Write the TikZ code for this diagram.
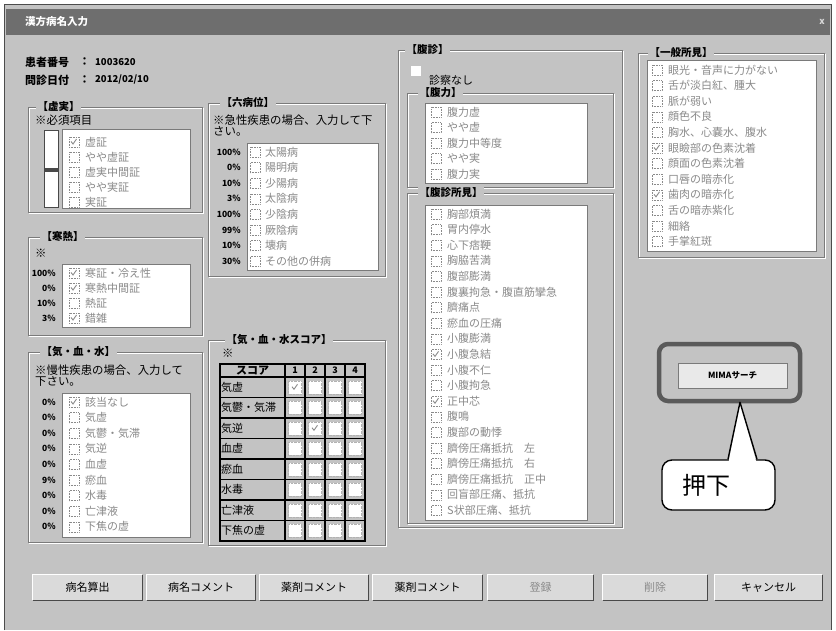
\documentclass[tikz,border=0pt]{standalone}
\usepackage{fontspec}
\setmainfont{Noto Sans CJK JP}
\usetikzlibrary{calc}
\definecolor{winbg}{HTML}{C3C3C3}
\definecolor{titlebg}{HTML}{6E6E6E}
\definecolor{itemgray}{HTML}{8A8A8A}
\definecolor{frdk}{HTML}{7A7A7A}
\definecolor{btnbg}{HTML}{DADADA}
\definecolor{hlgray}{HTML}{5A5A5A}
\tikzset{
 frdark/.style={draw=frdk, line width=0.9pt},
 frlight/.style={draw=white, line width=0.9pt},
 grptitle/.style={fill=winbg, inner xsep=1.5pt, inner ysep=0.5pt, font=\fontsize{10.5}{11}\selectfont\bfseries, text=black},
 listbox/.style={fill=white, draw=frdk, line width=0.8pt},
 cbox/.style={draw=itemgray, densely dotted, fill=white, minimum size=10pt, inner sep=0pt, line width=0.6pt},
 item/.style={font=\fontsize{11}{11}\selectfont, text=itemgray, inner sep=0pt},
 pct/.style={font=\fontsize{8.5}{9}\selectfont\bfseries, anchor=east, inner sep=0pt},
 chkmark/.style={draw=itemgray, line width=0.9pt},
 lbl/.style={font=\fontsize{11}{11}\selectfont\bfseries, inner sep=0pt, anchor=west},
 vallbl/.style={font=\fontsize{9.5}{10}\selectfont\bfseries, inner sep=0pt, anchor=west},
 note/.style={font=\fontsize{11.4}{11}\selectfont, inner sep=0pt, anchor=north west, align=left},
 btn/.style={fill=btnbg, draw=none, inner sep=0pt, font=\fontsize{11}{11}\selectfont},
 tbl/.style={draw=black, line width=1.3pt},
 scell/.style={fill=white, draw=gray!60, densely dotted, minimum size=13pt, inner sep=0pt},
}
\newcommand\chkon[1]{\draw[chkmark] ([xshift=-3pt,yshift=0.5pt]#1.center) -- ++(2pt,-2.5pt) -- ++(3.5pt,5pt);}
\newcommand\grpbox[7]{%
 \draw[frlight] ({#2+1},{#3+1}) rectangle ({#4+1},{#5+1});
 \draw[frdark] (#2,#3) rectangle (#4,#5);
 \node[grptitle, anchor=west] (#1) at (#6,#3) {#7};}
\newcommand\cklist[6]{%
 \foreach \itm [count=\i] in {#6}{%
   \node[cbox] (#1cb\i) at (#2,{#4+(\i-1)*#5}) {};
   \node[item, anchor=west] (#1t\i) at (#3,{#4+(\i-1)*#5}) {\itm};
 }}
\newcommand\pctlist[5]{%
 \foreach \p [count=\i] in {#5}{\node[pct] (#1p\i) at (#2,{#3+(\i-1)*#4}) {\p};}}
\newcommand\gbutton[6]{%
 \node[btn, minimum width={#3-#2}, minimum height={#5-#4}] (#1) at ({(#2+#3)/2},{(#4+#5)/2}) {#6};
 \draw[white, line width=1pt] (#1.south west) -- (#1.north west) -- (#1.north east);
 \draw[frdk!60!black, line width=1pt] (#1.north east) -- (#1.south east) -- (#1.south west);}
\begin{document}
\begin{tikzpicture}[x=1pt,y=-1pt]
\useasboundingbox (0,0) rectangle (836,630);
\fill[white] (0,0) rectangle (836,630);
\fill[winbg] (4,4) rectangle (832,630);
\draw[black!70, line width=1pt] (4.5,630) -- (4.5,4.5) -- (831.5,4.5) -- (831.5,630);
\fill[titlebg] (6,9) rectangle (830,35);
\node[font=\fontsize{10.5}{11}\selectfont\bfseries, text=white, anchor=west, inner sep=0] (wtitle) at (25,22) {漢方病名入力};
\node[font=\fontsize{9}{9}\selectfont\bfseries, text=white!85!black, inner sep=0] (wclose) at (822,22) {x};
% info
\node[lbl] (pidl) at (25,62) {患者番号};
\node[lbl] (pidc) at (79,62) {：};
\node[vallbl] (pidv) at (95,62) {1003620};
\node[lbl] (dtl) at (25,80) {問診日付};
\node[lbl] (dtc) at (79,80) {：};
\node[vallbl] (dtv) at (95,80) {2012/02/10};
% 虚実
\grpbox{kjt}{28}{107}{202}{212}{36}{【虚実】}
\node[note, anchor=west] (kjnote) at (35,120) {※必須項目};
\fill[frdk!60!black] (44,130) rectangle (59,208);
\fill[white] (45,131) rectangle (58,168);
\fill[white] (45,172) rectangle (58,207);
\draw[listbox] (62,129) rectangle (190,208);
\cklist{kj}{74}{85}{142}{15}{虚証,やや虚証,虚実中間証,やや実証,実証}
\chkon{kjcb1}
% 六病位
\grpbox{rbt}{208}{103}{385}{276}{220}{【六病位】}
\node[note] (rbnote) at (213,115) {※急性疾患の場合、入力して下\\さい。};
\draw[listbox] (247,143) rectangle (378,270);
\cklist{rb}{255}{265}{152}{15.6}{太陽病,陽明病,少陽病,太陰病,少陰病,厥陰病,壊病,その他の併病}
\pctlist{rb}{241}{152}{15.6}{100\%,0\%,10\%,3\%,100\%,99\%,10\%,30\%}
% 寒熱
\grpbox{knt}{28}{237}{202}{335}{40}{【寒熱】}
\node[note, anchor=west] (knnote) at (35,253) {※};
\draw[listbox] (62,264) rectangle (190,327);
\cklist{kn}{74}{85}{273}{15}{寒証・冷え性,寒熱中間証,熱証,錯雑}
\pctlist{kn}{56}{273}{15}{100\%,0\%,10\%,3\%}
\chkon{kncb1} \chkon{kncb2} \chkon{kncb4}
% 気血水
\grpbox{kkt}{28}{352}{202}{542}{40}{【気・血・水】}
\node[note] (kknote) at (35,365) {※慢性疾患の場合、入力して\\下さい。};
\draw[listbox] (62,393) rectangle (190,537);
\cklist{kk}{74}{85}{402}{15.6}{該当なし,気虚,気鬱・気滞,気逆,血虚,瘀血,水毒,亡津液,下焦の虚}
\pctlist{kk}{56}{402}{15.6}{0\%,0\%,0\%,0\%,0\%,9\%,0\%,0\%,0\%}
\chkon{kkcb1}
% スコア
\grpbox{sct}{208}{340}{385}{545}{225}{【気・血・水スコア】}
\node[note, anchor=west] (scnote) at (222,353) {※};
\draw[tbl] (220,364) rectangle (365,541);
\foreach \k in {0,...,7} \draw[tbl] (220,{377+\k*20.5}) -- (365,{377+\k*20.5});
\foreach \cx in {285,305,325,345} \draw[tbl] (\cx,364) -- (\cx,541);
\node[font=\fontsize{11}{11}\selectfont\bfseries, inner sep=0] (schd) at (252.5,370.5) {スコア};
\foreach \c/\cx in {1/295,2/315,3/335,4/355} \node[font=\fontsize{9}{9}\selectfont\bfseries, inner sep=0] (sch\c) at (\cx,370.5) {\c};
\foreach \lab [count=\r] in {気虚,気鬱・気滞,気逆,血虚,瘀血,水毒,亡津液,下焦の虚} {
  \node[font=\fontsize{11}{11}\selectfont, anchor=west, inner sep=0] (scl\r) at (221,{387.25+(\r-1)*20.5}) {\lab};
  \foreach \c/\cx in {1/295,2/315,3/335,4/355} \node[scell] (sc\r-\c) at (\cx,{387.25+(\r-1)*20.5}) {};
}
\chkon{sc1-1} \chkon{sc3-2}
% 腹診
\grpbox{fst}{398}{50}{622}{527}{405}{【腹診】}
\node[fill=white, minimum size=10pt, inner sep=0] (nosh) at (416,71) {};
\node[font=\fontsize{11}{11}\selectfont, anchor=west, inner sep=0] (noshl) at (429,80) {診察なし};
\grpbox{frt}{407}{93}{613}{187}{418}{【腹力】}
\draw[listbox] (425,103) rectangle (587,183);
\cklist{fr}{436}{447}{112}{15.5}{腹力虚,やや虚,腹力中等度,やや実,腹力実}
\grpbox{fft}{407}{193}{613}{523}{418}{【腹診所見】}
\draw[listbox] (425,205) rectangle (587,520);
\cklist{ff}{436}{447}{214}{15.6}{胸部煩満,胃内停水,心下痞鞕,胸脇苦満,腹部膨満,腹裏拘急・腹直筋攣急,臍痛点,瘀血の圧痛,小腹膨満,小腹急結,小腹不仁,小腹拘急,正中芯,腹鳴,腹部の動悸,臍傍圧痛抵抗　左,臍傍圧痛抵抗　右,臍傍圧痛抵抗　正中,回盲部圧痛、抵抗,S状部圧痛、抵抗}
\chkon{ffcb10} \chkon{ffcb13}
% 一般所見
\grpbox{ipt}{638}{53}{824}{257}{648}{【一般所見】}
\draw[listbox] (647,60) rectangle (816,251);
\cklist{ip}{657}{668}{70}{15.6}{眼光・音声に力がない,舌が淡白紅、腫大,脈が弱い,顔色不良,胸水、心嚢水、腹水,眼瞼部の色素沈着,顔面の色素沈着,口唇の暗赤化,歯肉の暗赤化,舌の暗赤紫化,細絡,手掌紅斑}
\chkon{ipcb6} \chkon{ipcb9}
% MIMA
\node[draw=hlgray, line width=4.5pt, rounded corners=9pt, minimum width=141pt, minimum height=57pt, inner sep=0] (mimahl) at (729.5,372.5) {};
\node[fill=btnbg!60!white, draw=frdk, minimum width=109pt, minimum height=25pt, inner sep=0, font=\fontsize{8.5}{9}\selectfont\bfseries] (mima) at (732.5,375.5) {MIMAサーチ};
% callout
\node[draw=black, line width=1.4pt, fill=white, rounded corners=10pt, minimum width=113pt, minimum height=50pt, inner sep=0] (callout) at (718.5,485) {};
\coordinate (tip) at ($(mimahl.south)+(10.5,-1)$);
\fill[white] ($(callout.north)+(10.2,2.5)$) -- (tip) -- ($(callout.north)+(37.8,2.5)$) -- cycle;
\draw[line width=1.4pt, line join=round] ($(callout.north)+(9.5,0)$) -- (tip) -- ($(callout.north)+(38.5,0)$);
\node[font=\fontsize{24}{24}\selectfont, anchor=west, inner sep=0] (oshita) at (682,485) {押下};
% buttons
\gbutton{bt1}{33}{142}{575}{600}{病名算出}
\gbutton{bt2}{147}{255}{575}{600}{病名コメント}
\gbutton{bt3}{260}{368}{575}{600}{薬剤コメント}
\gbutton{bt4}{373}{482}{575}{600}{薬剤コメント}
\gbutton{bt5}{488}{593}{575}{600}{\textcolor{itemgray}{登録}}
\gbutton{bt6}{603}{707}{575}{600}{\textcolor{itemgray}{削除}}
\gbutton{bt7}{715}{822}{575}{600}{キャンセル}
\end{tikzpicture}
\end{document}
